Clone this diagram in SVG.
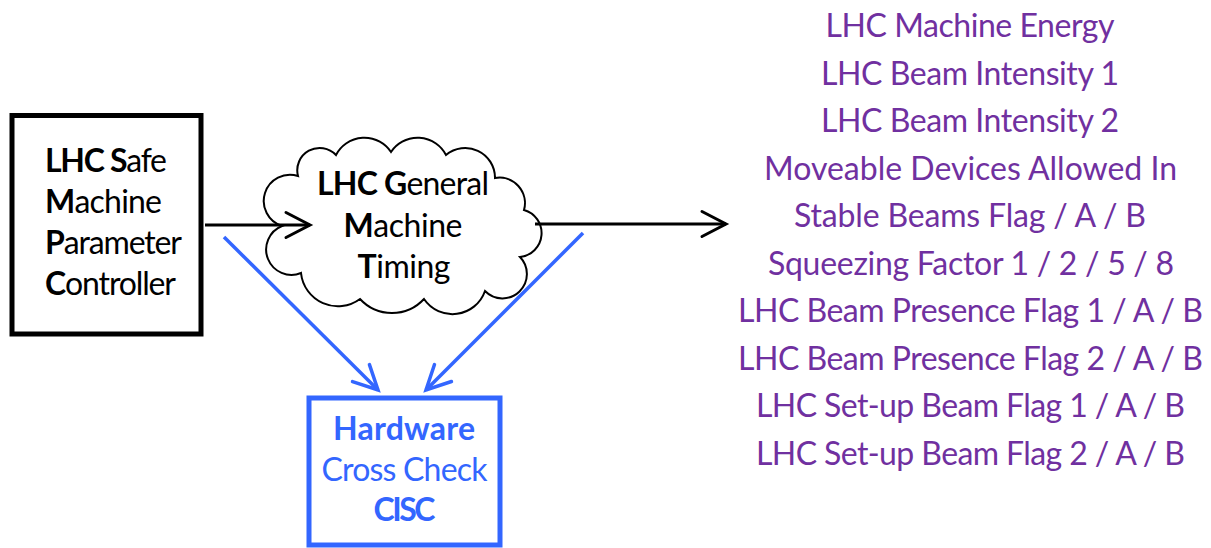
<svg xmlns="http://www.w3.org/2000/svg" width="1211" height="548" viewBox="0 0 1211 548">
<style>
  text { font-family: Lato, "Open Sans", "Liberation Sans", sans-serif; font-size: 32px; }
  .b { font-weight: bold; }
  .blk { fill: #000000; }
  .blue { fill: #3366FF; }
  .pur { fill: #7030A0; text-anchor: middle; }
  .mid { text-anchor: middle; }
  .conn-k { fill: none; stroke: #000000; stroke-width: 3; }
  .conn-b { fill: none; stroke: #3366FF; stroke-width: 3.5; }
</style>
<defs>
  <marker id="ak" markerUnits="userSpaceOnUse" viewBox="-30 -16 34 32" refX="0" refY="0" markerWidth="34" markerHeight="32" orient="auto" overflow="visible">
    <path d="M-24,-12.5 L0,0 L-24,12.5" fill="none" stroke="#000000" stroke-width="3" stroke-linecap="round" stroke-linejoin="miter"/>
  </marker>
  <marker id="ab" markerUnits="userSpaceOnUse" viewBox="-30 -16 34 32" refX="0" refY="0" markerWidth="34" markerHeight="32" orient="auto" overflow="visible">
    <path d="M-24,-12 L0,0 L-24,12" fill="none" stroke="#3366FF" stroke-width="3.5" stroke-linecap="round" stroke-linejoin="miter"/>
  </marker>
</defs>
<rect width="1211" height="548" fill="#FFFFFF"/>

<g id="smp">
  <rect x="12" y="115.5" width="189" height="218.5" fill="#FFFFFF" stroke="#000000" stroke-width="5"/>
  <text class="blk" x="45" y="172" textLength="122"><tspan class="b">LHC S</tspan>afe</text>
  <text class="blk" x="45" y="213" textLength="117"><tspan class="b">M</tspan>achine</text>
  <text class="blk" x="45" y="254" textLength="137"><tspan class="b">P</tspan>arameter</text>
  <text class="blk" x="45" y="295" textLength="131"><tspan class="b">C</tspan>ontroller</text>
</g>

<g id="gmt">
  <path d="M282,226 A26,26 0 0 1 298,176 A22.4,22.4 0 0 1 336,155 A32,32 0 0 1 391,152 A32,32 0 0 1 446,155 A29.8,29.8 0 0 1 495,178 A25.5,25.5 0 0 1 524,210 A24,24 0 0 1 520,257 A24.1,24.1 0 0 1 485,291 A34.4,34.4 0 0 1 424,299 A43.6,43.6 0 0 1 360,299 A37.1,37.1 0 0 1 301,273 A25,25 0 0 1 282,226 Z" fill="#FFFFFF" stroke="#000000" stroke-width="2"/>
  <text class="blk mid" x="403" y="195" textLength="172"><tspan class="b">LHC G</tspan>eneral</text>
  <text class="blk mid" x="403" y="237" textLength="119"><tspan class="b">M</tspan>achine</text>
  <text class="blk mid" x="404" y="278" textLength="93"><tspan class="b">T</tspan>iming</text>
</g>

<g id="cisc">
  <rect x="309" y="398" width="191" height="147" fill="#FFFFFF" stroke="#3366FF" stroke-width="5"/>
  <text class="blue mid b" x="404" y="440" textLength="142">Hardware</text>
  <text class="blue mid" x="404.5" y="481" textLength="166">Cross Check</text>
  <text class="blue mid b" x="404.5" y="521" textLength="62">CISC</text>
</g>

<g id="signals">
  <text class="pur" x="970" y="37" textLength="289">LHC Machine Energy</text>
  <text class="pur" x="970" y="84.5" textLength="298">LHC Beam Intensity 1</text>
  <text class="pur" x="970" y="132" textLength="298">LHC Beam Intensity 2</text>
  <text class="pur" x="970.5" y="179.5" textLength="413">Moveable Devices Allowed In</text>
  <text class="pur" x="970" y="227" textLength="352">Stable Beams Flag / A / B</text>
  <text class="pur" x="971" y="274.5" textLength="406">Squeezing Factor 1 / 2 / 5 / 8</text>
  <text class="pur" x="970.5" y="322" textLength="465">LHC Beam Presence Flag 1 / A / B</text>
  <text class="pur" x="970.5" y="369.5" textLength="465">LHC Beam Presence Flag 2 / A / B</text>
  <text class="pur" x="970.5" y="417" textLength="429">LHC Set-up Beam Flag 1 / A / B</text>
  <text class="pur" x="970.5" y="464.5" textLength="429">LHC Set-up Beam Flag 2 / A / B</text>
</g>

<g id="connectors">
  <line class="conn-k" x1="205" y1="225" x2="310" y2="225" marker-end="url(#ak)"/>
  <line class="conn-k" x1="535" y1="224" x2="726" y2="224" marker-end="url(#ak)"/>
  <line class="conn-b" x1="224" y1="237" x2="378" y2="390" marker-end="url(#ab)"/>
  <line class="conn-b" x1="583" y1="233" x2="426" y2="390" marker-end="url(#ab)"/>
</g>
</svg>
